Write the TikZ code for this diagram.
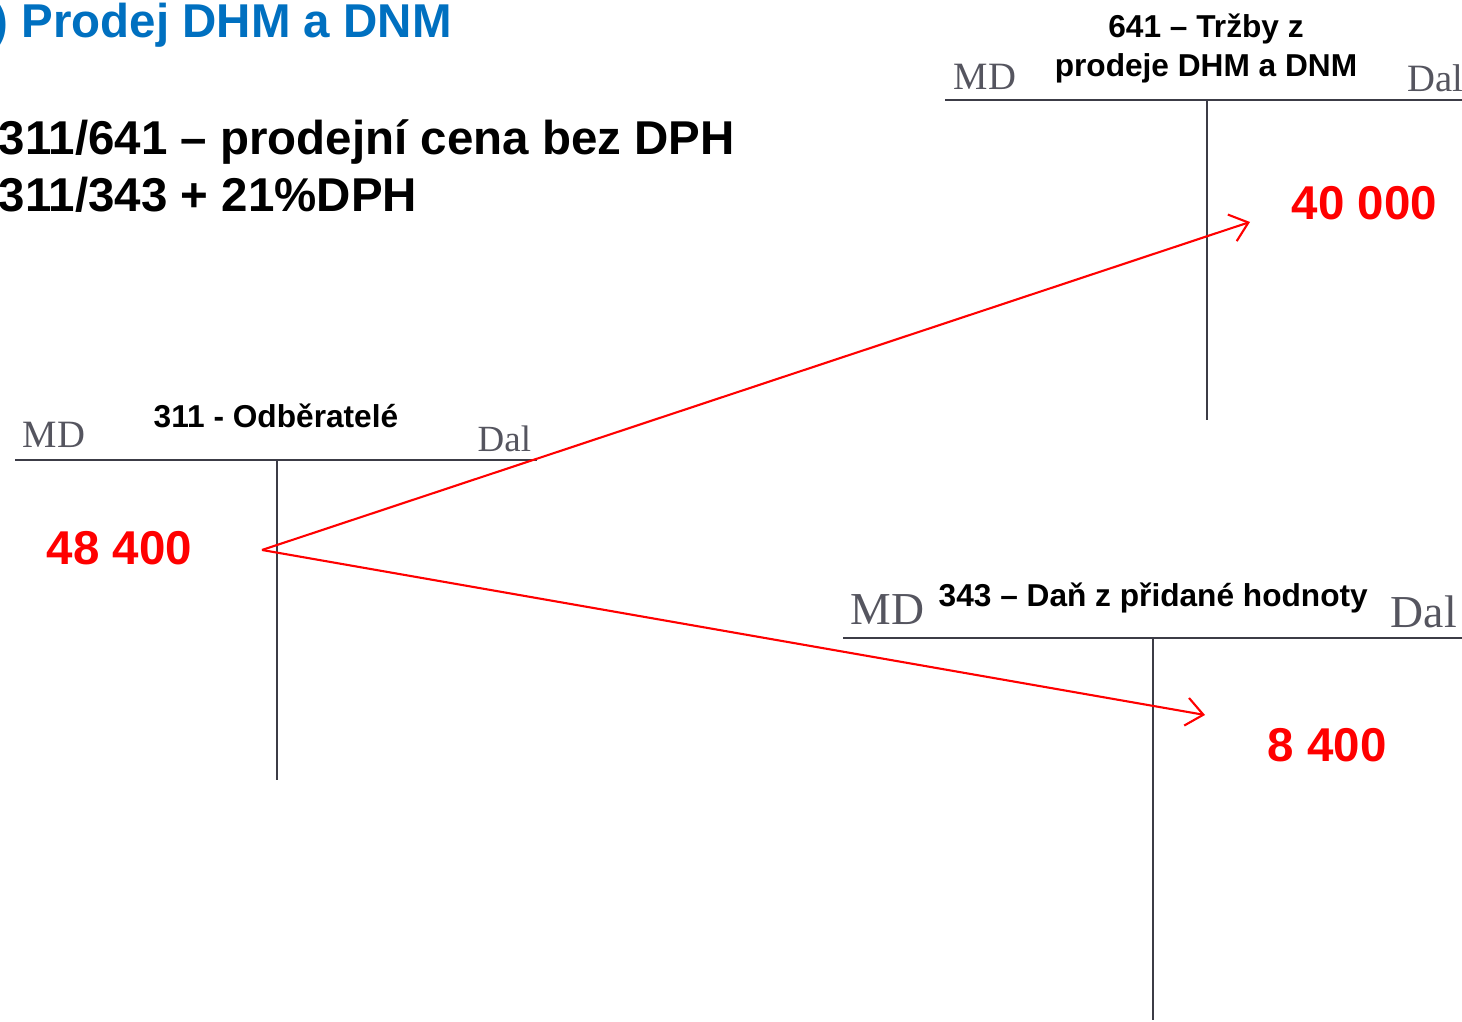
\documentclass[tikz,border=0pt]{standalone}
\usepackage{fontspec}
\setmainfont{Liberation Sans}
\newfontfamily\patkove{Liberation Serif}
\usepackage{tikz}
\usetikzlibrary{arrows.meta}

\definecolor{modra}{RGB}{0,112,192}
\definecolor{sedaMD}{RGB}{85,85,95}
\definecolor{cara}{RGB}{60,60,70}

\begin{document}
\begin{tikzpicture}[x=0.01cm, y=-0.01cm,
    titulo/.style={inner sep=0, anchor=base west, font=\fontsize{13.5}{16}\selectfont\bfseries},
    cuenta/.style={inner sep=0, font=\fontsize{9}{11}\selectfont\bfseries},
    lado/.style={inner sep=0, anchor=base west, text=sedaMD},
    cifra/.style={inner sep=0, anchor=base west, text=red, font=\fontsize{13.5}{16}\selectfont\bfseries},
    linea/.style={cara, line width=0.7pt},
    flecha/.style={red, line width=0.6pt, -{Straight Barb[length=1.7mm, width=2.8mm]}}]
    \useasboundingbox (0,0) rectangle (1462,1022);

    % Titulo
    \node[titulo, text=modra] (nadpis) at (-8,38) {) Prodej DHM a DNM};
    \node[titulo] (radek1) at (-2,155) {311/641 -- prodejní cena bez DPH};
    \node[titulo] (radek2) at (-2,212) {311/343 + 21\%DPH};

    % Cuenta 641
    \draw[linea] (945,100) -- (1462,100);
    \draw[linea] (1207,100) -- (1207,420);
    \node[cuenta, anchor=base] (u641a) at (1206,38) {641 -- Tržby z};
    \node[cuenta, anchor=base] (u641b) at (1206,77) {prodeje DHM a DNM};
    \node[lado, font=\patkove\fontsize{11}{13}\selectfont] (md641) at (953,90) {MD};
    \node[lado, font=\patkove\fontsize{11}{13}\selectfont] (dal641) at (1407,92) {Dal};

    % Cuenta 311
    \draw[linea] (15,460) -- (537,460);
    \draw[linea] (277,460) -- (277,780);
    \node[cuenta, anchor=base west] (u311) at (153,428) {311 - Odběratelé};
    \node[lado, font=\patkove\fontsize{11}{13}\selectfont] (md311) at (22,448) {MD};
    \node[lado, font=\patkove\fontsize{10.5}{13}\selectfont] (dal311) at (477,452) {Dal};

    % Cuenta 343
    \draw[linea] (843,638) -- (1462,638);
    \draw[linea] (1153,638) -- (1153,1020);
    \node[cuenta, anchor=base west] (u343) at (938,607) {343 -- Daň z přidané hodnoty};
    \node[lado, font=\patkove\fontsize{13}{15}\selectfont] (md343) at (850,625) {MD};
    \node[lado, font=\patkove\fontsize{13}{15}\selectfont] (dal343) at (1390,628) {Dal};

    % Importes
    \node[cifra] (c48400) at (46,565) {48 400};
    \node[cifra] (c40000) at (1291,220) {40 000};
    \node[cifra] (c8400) at (1267,762) {8 400};

    % Flechas
    \coordinate (origen) at (262,550);
    \coordinate (dest641) at (1250,222);
    \coordinate (dest343) at (1205,715);
    \draw[flecha] (origen) -- (dest641);
    \draw[flecha] (origen) -- (dest343);
\end{tikzpicture}
\end{document}
